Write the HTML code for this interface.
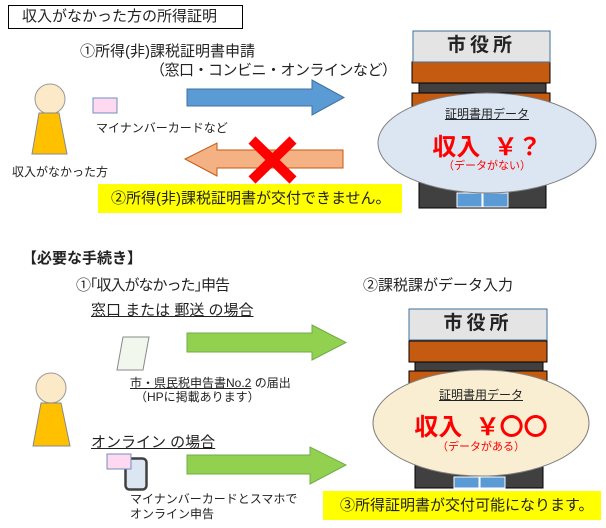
<!DOCTYPE html>
<html><head><meta charset="utf-8">
<style>
html,body{margin:0;padding:0;background:#fff;}
body{width:606px;height:528px;position:relative;overflow:hidden;font-family:"Liberation Sans","Noto Sans CJK JP",sans-serif;color:#222;}
.t{position:absolute;white-space:nowrap;line-height:1;}
svg{position:absolute;left:0;top:0;}
</style></head><body>
<svg width="606" height="528" viewBox="0 0 606 528">
<rect x="8.5" y="5.5" width="234" height="23" fill="#fff" stroke="#000"/>
<rect x="419" y="83" width="127" height="125" fill="#404040" stroke="#000"/>
<rect x="412" y="62" width="138" height="21" fill="#c55a11" stroke="#000"/>
<rect x="412" y="93" width="138" height="25" fill="#c55a11" stroke="#000"/>
<rect x="413" y="31" width="137" height="31" fill="#e4e4e4" stroke="#41719c"/>
<rect x="457" y="193" width="25" height="14" fill="#5b9bd5" stroke="#fff"/>
<rect x="483" y="193" width="25" height="14" fill="#5b9bd5" stroke="#fff"/>
<ellipse cx="487" cy="143" rx="109" ry="50" fill="#dce6f2" stroke="#7f7f7f"/>
<circle cx="50" cy="99" r="15" fill="#fbe9c8" stroke="#999"/>
<polygon points="39,113 59,113 67,154 32,154" fill="#ffc000" stroke="#888"/>
<rect x="93" y="98" width="24" height="15" fill="#ffd9f0" stroke="#6f8fbf"/>
<polygon points="187,89 312,89 312,80 344,97.5 312,115 312,106 187,106" fill="#5b9bd5" stroke="#41719c"/>
<polygon points="343,150 217,150 217,143 185,159 217,176 217,168 343,168" fill="#f4b183" stroke="#c55a11"/>
<line x1="252" y1="140" x2="293" y2="180" stroke="#ff0000" stroke-width="10"/>
<line x1="293" y1="140" x2="252" y2="180" stroke="#ff0000" stroke-width="10"/>
<rect x="98" y="184" width="304" height="29" fill="#ffff00"/>
<rect x="415" y="362" width="128" height="126" fill="#404040" stroke="#000"/>
<rect x="409" y="341" width="138" height="21" fill="#c55a11" stroke="#000"/>
<rect x="409" y="371" width="138" height="25" fill="#c55a11" stroke="#000"/>
<rect x="409" y="309" width="138" height="31" fill="#e4e4e4" stroke="#41719c"/>
<rect x="454" y="477" width="25" height="11" fill="#5b9bd5" stroke="#fff"/>
<rect x="480" y="477" width="25" height="11" fill="#5b9bd5" stroke="#fff"/>
<ellipse cx="481" cy="423" rx="108" ry="53" fill="#faeed2" stroke="#7f7f7f"/>
<polygon points="123,337 149,337 143,370 117,370" fill="#f2f7ee" stroke="#888"/>
<circle cx="51" cy="388" r="15" fill="#fbe9c8" stroke="#999"/>
<polygon points="41,403 61,403 70,446 33,446" fill="#ffc000" stroke="#888"/>
<rect x="125.5" y="458.5" width="21" height="31" rx="4" fill="#dce6f2" stroke="#404040" stroke-width="2.5"/>
<rect x="107" y="454" width="24" height="15" fill="#ffd9f0" stroke="#6f8fbf"/>
<polygon points="187,333 312,333 312,325 346,342.5 312,360 312,352 187,352" fill="#92d050" stroke="#70ad47"/>
<polygon points="187,455 310,455 310,447 346,465 310,484 310,474 187,474" fill="#92d050" stroke="#70ad47"/>
<rect x="323" y="491" width="278" height="29" fill="#ffff00"/>
</svg>

<div class="t" style="left:22px;top:9px;font-size:15px;">収入がなかった方の所得証明</div>
<div class="t" style="left:80px;top:44px;font-size:15px;">①所得(非)課税証明書申請</div>
<div class="t" style="left:150px;top:63px;font-size:15px;letter-spacing:-0.5px;">（窓口・コンビニ・オンラインなど）</div>
<div class="t" style="left:96px;top:122px;font-size:12px;">マイナンバーカードなど</div>
<div class="t" style="left:12px;top:166px;font-size:12px;">収入がなかった方</div>
<div class="t" style="left:111px;top:191px;font-size:15px;">②所得(非)課税証明書が交付できません。</div>
<div class="t" style="left:413px;top:36px;width:137px;text-align:center;font-size:19px;font-weight:bold;letter-spacing:4px;">市役所</div>
<div class="t" style="left:432px;top:108px;width:110px;text-align:center;font-size:12px;"><u>証明書用データ</u></div>
<div class="t" style="left:407px;top:136px;width:160px;text-align:center;font-size:24px;font-weight:bold;color:#ff0000;">収入&nbsp;&nbsp;￥？</div>
<div class="t" style="left:407px;top:161px;width:160px;text-align:center;font-size:11px;color:#ff0000;">（データがない）</div>

<div class="t" style="left:22px;top:251px;font-size:15px;font-weight:bold;">【必要な手続き】</div>
<div class="t" style="left:76px;top:278px;font-size:15px;letter-spacing:-1px;">①｢収入がなかった｣申告</div>
<div class="t" style="left:363px;top:278px;font-size:15px;">②課税課がデータ入力</div>
<div class="t" style="left:91px;top:303px;font-size:15px;text-decoration:underline;">窓口 または 郵送 の場合</div>
<div class="t" style="left:130px;top:377px;font-size:12px;"><u>市・県民税申告書No.2</u> の届出</div>
<div class="t" style="left:135px;top:391px;font-size:12px;">（HPに掲載あります）</div>
<div class="t" style="left:91px;top:435px;font-size:15px;text-decoration:underline;">オンライン の場合</div>
<div class="t" style="left:130px;top:493px;font-size:12px;">マイナンバーカードとスマホで</div>
<div class="t" style="left:130px;top:508px;font-size:12px;">オンライン申告</div>
<div class="t" style="left:409px;top:314px;width:138px;text-align:center;font-size:19px;font-weight:bold;letter-spacing:4px;">市役所</div>
<div class="t" style="left:426px;top:389px;width:110px;text-align:center;font-size:12px;"><u>証明書用データ</u></div>
<div class="t" style="left:396px;top:416px;width:170px;text-align:center;font-size:24px;font-weight:bold;color:#ff0000;">収入&nbsp;&nbsp;￥〇〇</div>
<div class="t" style="left:396px;top:442px;width:170px;text-align:center;font-size:11px;color:#ff0000;">（データがある）</div>
<div class="t" style="left:340px;top:498px;font-size:15px;">③所得証明書が交付可能になります。</div>
</body></html>
